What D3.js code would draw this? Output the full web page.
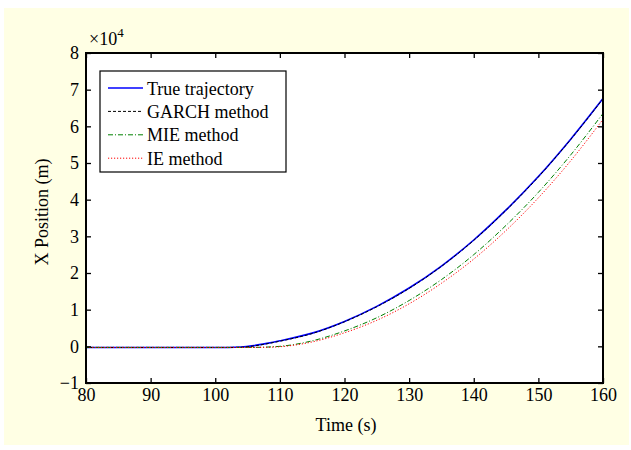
<!DOCTYPE html>
<html><head><meta charset="utf-8">
<script src="https://cdn.jsdelivr.net/npm/d3@7"></script>
<style>body{margin:0;background:#fff;} svg{display:block;} text{font-family:"Liberation Serif","DejaVu Serif",serif !important;}</style>
</head><body>
<svg id="c" width="631" height="450"></svg>
<script>
const timeTrue = [80,85,90,95,100,102,104,106,108,110,115,120,125,130,135,140,145,150,155,160];
const trueVals = [-0.03,-0.03,-0.03,-0.03,-0.03,-0.03,-0.02,0.02,0.08,0.15,0.36,0.68,1.09,1.59,2.19,2.9,3.72,4.63,5.65,6.76];
const garchVals = [-0.03,-0.03,-0.03,-0.03,-0.03,-0.03,-0.025,0.01,0.07,0.14,0.35,0.67,1.08,1.58,2.18,2.89,3.71,4.62,5.64,6.75];
const timeEst = [80,85,90,95,100,105,108,110,115,120,125,130,135,140,145,150,155,160];
const mieVals = [-0.03,-0.03,-0.03,-0.03,-0.03,-0.03,-0.02,0.0,0.15,0.42,0.78,1.25,1.82,2.5,3.3,4.2,5.22,6.35];
const ieVals  = [-0.03,-0.03,-0.03,-0.03,-0.03,-0.03,-0.025,-0.01,0.12,0.37,0.71,1.16,1.72,2.38,3.16,4.05,5.06,6.19];
const xTicks = [80,90,100,110,120,130,140,150,160];
const yTicks = [-1,0,1,2,3,4,5,6,7,8];
const legendLabels = ["True trajectory","GARCH method","MIE method","IE method"];

const FONT = "'Liberation Serif','DejaVu Serif',serif";
const svg = d3.select("#c");
svg.append("rect").attr("x",4).attr("y",8).attr("width",625).attr("height",437).attr("fill","#ffffe4");
const L=86,R=603,T=53,B=383;
const x = d3.scaleLinear().domain([80,160]).range([L,R]);
const y = d3.scaleLinear().domain([-1,8]).range([B,T]);
svg.append("rect").attr("x",L).attr("y",T).attr("width",R-L).attr("height",B-T).attr("fill","#fff");

const series = [
  {t:timeTrue, v:trueVals, color:"#0000ff", dash:null, w:1.6},
  {t:timeTrue, v:garchVals, color:"#000", dash:"3,2", w:1},
  {t:timeEst, v:mieVals, color:"#008000", dash:"5,2,1,2", w:1},
  {t:timeEst, v:ieVals, color:"#ff0000", dash:"1.2,1.8", w:1}
];
const line = d3.line().curve(d3.curveMonotoneX);
series.forEach(s=>{
  svg.append("path").attr("d", line(s.t.map((t,i)=>[x(t),y(s.v[i])])))
    .attr("fill","none").attr("stroke",s.color).attr("stroke-width",s.w)
    .attr("stroke-dasharray",s.dash);
});

const fmt = d=> d<0 ? "\u2212"+Math.abs(d) : String(d);
const gx = svg.append("g").attr("transform",`translate(0,${B})`)
  .call(d3.axisBottom(x).tickValues(xTicks).tickSize(-5).tickPadding(4).tickFormat(fmt));
const gxt = svg.append("g").attr("transform",`translate(0,${T})`)
  .call(d3.axisTop(x).tickValues(xTicks).tickSize(-5).tickFormat(""));
const gy = svg.append("g").attr("transform",`translate(${L},0)`)
  .call(d3.axisLeft(y).tickValues(yTicks).tickSize(-5).tickPadding(7).tickFormat(fmt));
const gyr = svg.append("g").attr("transform",`translate(${R},0)`)
  .call(d3.axisRight(y).tickValues(yTicks).tickSize(-5).tickFormat(""));
[gx,gxt,gy,gyr].forEach(g=>{
  g.attr("font-family",FONT).attr("font-size",18);
  g.select(".domain").remove();
  g.selectAll(".tick line").attr("stroke","#000").attr("stroke-width",1.3);
  g.selectAll(".tick text").attr("fill","#000");
});
gx.selectAll(".tick text").attr("dy","0.8em");
svg.append("rect").attr("x",L).attr("y",T).attr("width",R-L).attr("height",B-T)
  .attr("fill","none").attr("stroke","#000").attr("stroke-width",2);

const ex = svg.append("text").attr("x",89).attr("y",45).attr("font-size",18).attr("fill","#000");
ex.append("tspan").text("\u00d710");
ex.append("tspan").attr("dy",-8).attr("font-size",13).text("4");

svg.append("text").attr("x",346).attr("y",431).attr("text-anchor","middle").attr("font-size",18).text("Time (s)");
svg.append("text").attr("transform","translate(48,212) rotate(-90)").attr("text-anchor","middle").attr("font-size",18).text("X Position (m)");

const lg = svg.append("g");
lg.append("rect").attr("x",100).attr("y",71).attr("width",186).attr("height",101)
  .attr("fill","#fff").attr("stroke","#000").attr("stroke-width",1.2);
series.forEach((s,i)=>{
  const yy = 88 + i*23.4;
  lg.append("line").attr("x1",108).attr("x2",143).attr("y1",yy).attr("y2",yy)
    .attr("stroke",s.color).attr("stroke-width",s.w).attr("stroke-dasharray",s.dash);
  lg.append("text").attr("x",147).attr("y",yy+6.5).attr("font-size",18).text(legendLabels[i]);
});
</script>
</body></html>
